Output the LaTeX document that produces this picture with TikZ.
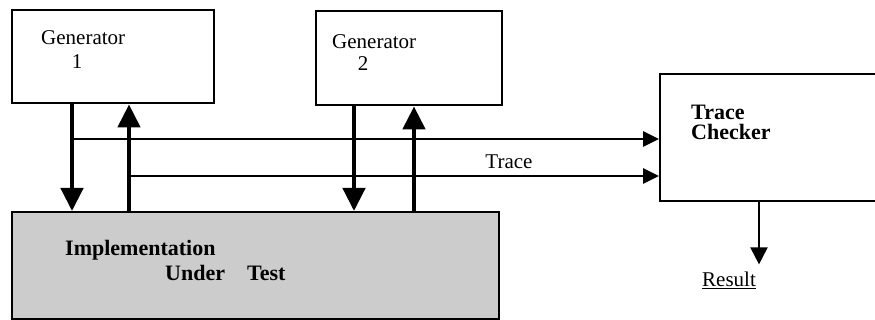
\documentclass[tikz,border=0pt]{standalone}
\usepackage{fontspec}
\setmainfont{Liberation Serif}
\usetikzlibrary{arrows.meta}
\begin{document}
\begin{tikzpicture}[x=1pt,y=-1pt,
  box/.style={draw,line width=2.4pt,minimum width=#1,anchor=north west,inner sep=0pt},
  lbl/.style={font=\fontsize{21}{24}\selectfont,inner sep=0pt},
  blbl/.style={font=\fontsize{22}{25}\selectfont\bfseries,inner sep=0pt},
  vflow/.style={line width=4.5pt,-{Triangle[length=23pt,width=22pt]}},
  hflow/.style={line width=2.6pt,-{Triangle[length=16pt,width=15pt]}},
  rflow/.style={line width=2pt,-{Triangle[length=17pt,width=17pt]}}]
\useasboundingbox (0,0) rectangle (875,320);
\node[box=202pt,minimum height=93pt] (g1) at (11,9) {};
\node[box=186pt,minimum height=94pt] (g2) at (315,10) {};
\node[box=230pt,minimum height=127pt] (tc) at (659,73) {};
\node[box=487pt,minimum height=107pt,fill=black!20] (iut) at (11,211) {};
\node[lbl,anchor=west] (g1t) at (41,38) {Generator};
\node[lbl] (g1n) at (77,62) {1};
\node[lbl,anchor=west] (g2t) at (332,42) {Generator};
\node[lbl] (g2n) at (363,64) {2};
\node[lbl] (tr) at (509,162) {Trace};
\node[blbl,anchor=west] (im) at (65,250) {Implementation};
\node[blbl,anchor=west] (un) at (165,273) {Under};
\node[blbl,anchor=west] (te) at (247,273) {Test};
\node[blbl,anchor=west] (tct) at (691,112) {Trace};
\node[blbl,anchor=west] (tcc) at (691,132) {Checker};
\node[lbl,anchor=west] (res) at (702,280) {\underline{Result}};
\coordinate (j1) at (72,139);
\coordinate (j2) at (129,176);
\draw[vflow] ([xshift=61pt]g1.south west) -- ([xshift=61pt]iut.north west);
\draw[vflow] ([xshift=118pt]iut.north west) -- ([xshift=118pt]g1.south west);
\draw[vflow] ([xshift=39pt]g2.south west) -- ([xshift=343pt]iut.north west);
\draw[vflow] ([xshift=403pt]iut.north west) -- ([xshift=99pt]g2.south west);
\draw[hflow] (j1) -- (j1 -| tc.west);
\draw[hflow] (j2) -- (j2 -| tc.west);
\draw[rflow] ([xshift=100pt]tc.south west) -- ([xshift=100pt,yshift=-62pt]tc.south west);
\end{tikzpicture}
\end{document}
